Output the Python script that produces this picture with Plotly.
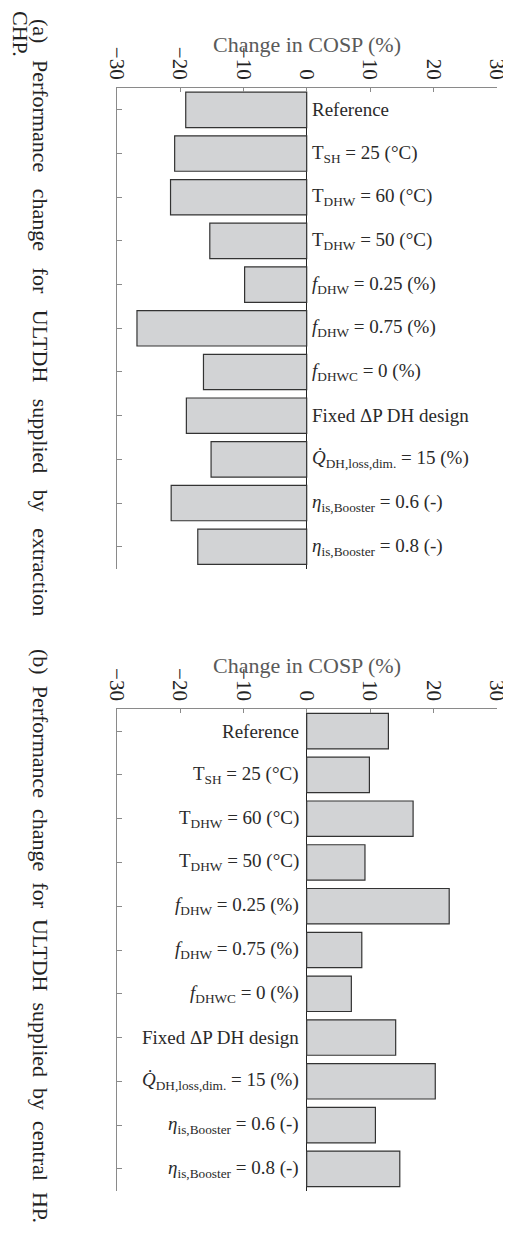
import plotly.graph_objects as go

# the page body adds an 8px margin, so the figure is drawn at (8, 8)
OFF = 8
W, H = 511 - OFF, 1242 - OFF

categories = [
    "Reference",
    "T<sub>SH</sub> = 25 (°C)",
    "T<sub>DHW</sub> = 60 (°C)",
    "T<sub>DHW</sub> = 50 (°C)",
    "<i>f</i><sub>DHW</sub> = 0.25 (%)",
    "<i>f</i><sub>DHW</sub> = 0.75 (%)",
    "<i>f</i><sub>DHWC</sub> = 0 (%)",
    "Fixed ΔP DH design",
    "<i>Q̇</i><sub>DH,loss,dim.</sub> = 15 (%)",
    "<i>η</i><sub>is,Booster</sub> = 0.6 (-)",
    "<i>η</i><sub>is,Booster</sub> = 0.8 (-)",
]
change_extraction = [-19.1, -20.85, -21.5, -15.3, -9.8, -26.8, -16.3, -19.0, -15.1, -21.4, -17.2]
change_central_hp = [12.9, 9.9, 16.8, 9.2, 22.5, 8.7, 7.05, 14.05, 20.3, 10.85, 14.7]

tick_vals = [-30, -20, -10, 0, 10, 20, 30]
tick_text = ["\u221230", "\u221220", "\u221210", "0", "10", "20", "30"]
axis_title = "Change in COSP (%)"
caption_a = "(a) Performance change for ULTDH supplied by extraction"
caption_b = "(b) Performance change for ULTDH supplied by central HP."
caption_c = "CHP."

SERIF = "Liberation Serif, serif"
bar_fill = "#d2d3d5"
bar_line = "#333333"
axis_col = "#8a8a8a"


def px_x(p):
    return (p - OFF) / W


def px_y(p):
    return 1 - (p - OFF) / H


fig = go.Figure()
fig.add_trace(go.Bar(x=change_extraction, y=categories, orientation="h",
                     marker=dict(color=bar_fill, line=dict(color=bar_line, width=1.2)),
                     width=0.81, xaxis="x", yaxis="y", showlegend=False))
fig.add_trace(go.Bar(x=change_central_hp, y=categories, orientation="h",
                     marker=dict(color=bar_fill, line=dict(color=bar_line, width=1.2)),
                     width=0.81, xaxis="x2", yaxis="y2", showlegend=False))

xdom = [px_x(116.7), px_x(496.7)]
xcommon = dict(range=[-30, 30], side="top", showline=True, linecolor=axis_col, linewidth=1,
               ticks="inside", ticklen=4, tickcolor=axis_col, tickangle=90,
               tickvals=tick_vals, ticktext=tick_text,
               tickfont=dict(family=SERIF, size=21, color="#222"),
               showgrid=False, zeroline=True, zerolinecolor="#222", zerolinewidth=1,
               domain=xdom, fixedrange=True, automargin=False)
ycommon = dict(type="category", categoryorder="array", categoryarray=categories,
               range=[10.5, -0.5], showline=True, linecolor=axis_col, linewidth=1.4,
               ticks="inside", ticklen=5, tickcolor=axis_col, showticklabels=False,
               showgrid=False, zeroline=False, automargin=False)

fig.update_layout(
    width=W, height=H, margin=dict(l=0, r=0, t=0, b=0, pad=0, autoexpand=False),
    paper_bgcolor="white", plot_bgcolor="white",
    bargap=0.19,
    xaxis=dict(xcommon, anchor="y"),
    yaxis=dict(ycommon, anchor="x", domain=[px_y(568.6), px_y(88)]),
    xaxis2=dict(xcommon, anchor="y2"),
    yaxis2=dict(ycommon, anchor="x2", domain=[px_y(1190.7), px_y(709.3)]),
)

ann = []
for cat in categories:
    ann.append(dict(x=0, y=cat, xref="x", yref="y", text=cat, showarrow=False,
                    xanchor="left", yanchor="middle", xshift=3,
                    font=dict(family=SERIF, size=19, color="#2a2a2a")))
    ann.append(dict(x=0, y=cat, xref="x2", yref="y2", text=cat, showarrow=False,
                    xanchor="right", yanchor="middle", xshift=-6,
                    font=dict(family=SERIF, size=19, color="#2a2a2a")))

for ty in (44, 665):
    ann.append(dict(x=px_x(306.7), y=px_y(ty), xref="paper", yref="paper", text=axis_title,
                    showarrow=False, xanchor="center", yanchor="middle",
                    font=dict(family=SERIF, size=22, color="#5a5a5a")))

NB = "\u00a0"
cap_a = (" " + NB * 2).join(caption_a.split(" "))
cap_b = (" " + NB * 1).join(caption_b.split(" "))
ann.append(dict(x=px_x(41), y=px_y(317), xref="paper", yref="paper", text=cap_a,
                textangle=90, showarrow=False, xanchor="center", yanchor="middle",
                font=dict(family=SERIF, size=22, color="#222")))
ann.append(dict(x=px_x(41), y=px_y(936), xref="paper", yref="paper", text=cap_b,
                textangle=90, showarrow=False, xanchor="center", yanchor="middle",
                font=dict(family=SERIF, size=22, color="#222")))
ann.append(dict(x=px_x(21), y=px_y(34), xref="paper", yref="paper", text=caption_c,
                textangle=90, showarrow=False, xanchor="center", yanchor="middle",
                font=dict(family=SERIF, size=22, color="#222")))

fig.update_layout(annotations=ann)
fig.write_html("out.html")
